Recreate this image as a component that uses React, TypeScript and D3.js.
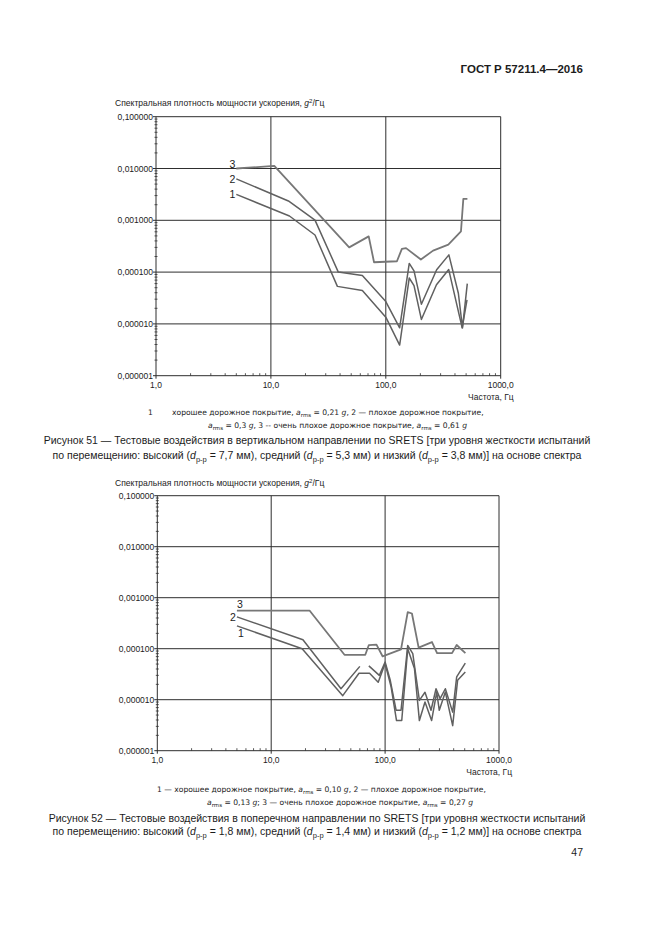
import * as d3 from 'd3';

type Pt = [number, number] | null;
type Seg = { t: string; i?: boolean; sub?: boolean; sup?: boolean };

// оси
const freqDecades = [1, 10, 100, 1000];
const freqLabels = ['1,0', '10,0', '100,0', '1000,0'];
const psdDecades = [0.1, 0.01, 0.001, 0.0001, 0.00001, 0.000001];
const psdLabels = ['0,100000', '0,010000', '0,001000', '0,000100', '0,000010', '0,000001'];

// Рисунок 51 — вертикальное направление
const fig51Curve1: Pt[] = [
  [5, 0.00316], [14.5, 0.00121], [24.2, 0.00052], [37.9, 0.000053], [62.5, 0.000044],
  [100, 0.0000135], [132, 0.0000039], [160, 0.000077], [176, 0.000055], [204, 0.0000122],
  [276, 0.000057], [353, 0.000112], [462, 0.0000084], [509, 0.000029],
];
const fig51Curve2: Pt[] = [
  [5, 0.0063], [14.2, 0.00236], [24.2, 0.00101], [38.6, 0.0001], [62.5, 0.000086],
  [100, 0.000027], [132, 0.0000084], [160, 0.000147], [176, 0.000106], [204, 0.000024],
  [277, 0.000111], [354, 0.000215], [428, 0.000039], [465, 0.0000084], [512, 0.00006],
];
const fig51Curve3: Pt[] = [
  [5, 0.01], [10.7, 0.0112], [48, 0.0003], [71, 0.00049], [79, 0.000155], [125, 0.000162],
  [138, 0.00028], [150, 0.00029], [202, 0.000175], [258, 0.00026], [350, 0.00034],
  [451, 0.00061], [473, 0.0026], [513, 0.0026],
];

// Рисунок 52 — поперечное направление
const fig52Curve1: Pt[] = [
  [5, 0.00028], [18.7, 0.0001], [42.5, 0.000012], [59, 0.000033], [73, 0.000033], [87, 0.000022],
  [100, 0.000051], [113, 0.0000177], [126, 0.0000039], [140, 0.0000039], [158, 0.0001],
  [181, 0.000041], [200, 0.0000039], [224, 0.000009], [256, 0.0000039], [284, 0.0000141],
  [299, 0.0000062], [338, 0.0000141], [392, 0.0000031], [433, 0.000024], [506, 0.000035],
];
const fig52Curve2: Pt[] = [
  [5, 0.00042], [19, 0.00015], [41, 0.0000164], [60, 0.000045], null,
  [72, 0.000046], [89, 0.00003], [100, 0.000055], [111, 0.000024], [125, 0.0000062],
  [138, 0.0000062], [158, 0.000116], [175, 0.00008], [200, 0.0000097], [224, 0.000014],
  [253, 0.0000062], [280, 0.0000164], [304, 0.0000105], [338, 0.0000164], [392, 0.0000057],
  [425, 0.000028], [506, 0.000052],
];
const fig52Curve3: Pt[] = [
  [5, 0.00056], [21.7, 0.00056], [44, 0.000076], [67, 0.000076], [72, 0.000118], [84, 0.00012],
  [95, 0.000071], [138, 0.000097], [158, 0.00052], [172, 0.00049], [197, 0.000105],
  [258, 0.000135], [286, 0.000082], [387, 0.000082], [425, 0.000118], [507, 0.000082],
];

const curveNames = ['1', '2', '3'];

const titleSegs: Seg[] = [
  { t: 'Спектральная плотность мощности ускорения, ' }, { t: 'g', i: true }, { t: '2', sup: true }, { t: '/Гц' },
];

const legend51a: Seg[] = [
  { t: 'хорошее дорожное покрытие, ' }, { t: 'a', i: true }, { t: 'rms', sub: true },
  { t: ' = 0,21 ' }, { t: 'g', i: true }, { t: ', 2 — плохое дорожное покрытие,' },
];
const legend51b: Seg[] = [
  { t: 'a', i: true }, { t: 'rms', sub: true }, { t: ' = 0,3 ' }, { t: 'g', i: true },
  { t: ', 3 -- очень плохое дорожное покрытие, ' }, { t: 'a', i: true }, { t: 'rms', sub: true },
  { t: ' = 0,61 ' }, { t: 'g', i: true },
];
const legend52a: Seg[] = [
  { t: '1 — хорошее дорожное покрытие, ' }, { t: 'a', i: true }, { t: 'rms', sub: true },
  { t: ' = 0,10 ' }, { t: 'g', i: true }, { t: ', 2 — плохое дорожное покрытие,' },
];
const legend52b: Seg[] = [
  { t: 'a', i: true }, { t: 'rms', sub: true }, { t: ' = 0,13 ' }, { t: 'g', i: true },
  { t: '; 3 — очень плохое дорожное покрытие, ' }, { t: 'a', i: true }, { t: 'rms', sub: true },
  { t: ' = 0,27 ' }, { t: 'g', i: true },
];

const caption51a = 'Рисунок 51 — Тестовые воздействия в вертикальном направлении по SRETS [три уровня жесткости испытаний';
const caption52a = 'Рисунок 52 — Тестовые воздействия в поперечном направлении по SRETS [три уровня жесткости испытаний';
const dpp = (v: string[]): Seg[] => [
  { t: 'по перемещению: высокий (' }, { t: 'd', i: true }, { t: 'p-p', sub: true }, { t: ` = ${v[0]} мм), средний (` },
  { t: 'd', i: true }, { t: 'p-p', sub: true }, { t: ` = ${v[1]} мм) и низкий (` },
  { t: 'd', i: true }, { t: 'p-p', sub: true }, { t: ` = ${v[2]} мм)] на основе спектра` },
];
const dpp51 = ['7,7', '5,3', '3,8'];
const dpp52 = ['1,8', '1,4', '1,2'];

const SANS = "'Liberation Sans', Arial, sans-serif";
const MONOISH = "'DejaVu Sans', sans-serif";
const INK = '#1c1c1c';

const Rich = ({ x, y, segs, size, anchor = 'start', family = SANS }: {
  x: number; y: number; segs: Seg[]; size: number; anchor?: string; family?: string;
}) => {
  let shift = 0;
  return (
    <text x={x} y={y} fontSize={size} textAnchor={anchor} fontFamily={family} fill={INK} style={{ whiteSpace: 'pre' }}>
      {segs.map((s, k) => {
        const target = s.sub ? size * 0.3 : s.sup ? -size * 0.4 : 0;
        const dy = target - shift;
        shift = target;
        return (
          <tspan key={k} dy={dy ? dy : undefined} fontStyle={s.i ? 'italic' : undefined}
            fontSize={s.sub || s.sup ? size * 0.72 : undefined}>{s.t}</tspan>
        );
      })}
    </text>
  );
};

type ChartProps = {
  x0: number; x1: number; y0: number; y1: number;
  curves: Pt[][];
  labelPos: { dx: number; dy: number; anchor: string }[];
};

const Chart = ({ x0, x1, y0, y1, curves, labelPos }: ChartProps) => {
  const x = d3.scaleLog().domain([1, 1000]).range([x0, x1]);
  const y = d3.scaleLog().domain([1e-6, 0.1]).range([y1, y0]);
  const line = d3.line<Pt>()
    .defined(d => d !== null)
    .x(d => x(d![0]))
    .y(d => y(d![1]));
  const minorX = freqDecades.slice(0, 3).flatMap(d => d3.range(2, 10).map(k => k * d));
  const minorY = psdDecades.slice(1).flatMap(d => d3.range(2, 10).map(k => k * d));
  const grid = '#2e2e2e';

  return (
    <g>
      {psdDecades.map(v => (
        <line key={'h' + v} x1={x0 - 3} x2={x1} y1={y(v)} y2={y(v)} stroke={grid} strokeWidth={1} />
      ))}
      {freqDecades.map(v => (
        <line key={'v' + v} x1={x(v)} x2={x(v)} y1={y0} y2={y1 + 3} stroke={grid} strokeWidth={1} />
      ))}
      {minorX.map(v => (
        <line key={'mx' + v} x1={x(v)} x2={x(v)} y1={y1} y2={y1 - 2.5} stroke={grid} strokeWidth={0.8} />
      ))}
      {minorY.map(v => (
        <line key={'my' + v} x1={x0 - 1.5} x2={x0 + 1.5} y1={y(v)} y2={y(v)} stroke={grid} strokeWidth={0.8} />
      ))}
      {psdDecades.map((v, i) => (
        <text key={'yl' + v} x={x0 - 3} y={y(v) + 3} fontSize={8.5} textAnchor="end" fontFamily={SANS} fill={INK}>
          {psdLabels[i]}
        </text>
      ))}
      {freqDecades.map((v, i) => (
        <text key={'xl' + v} x={x(v)} y={y1 + 12.5} fontSize={8.5} textAnchor="middle" fontFamily={SANS} fill={INK}>
          {freqLabels[i]}
        </text>
      ))}
      <text x={x1 + 13} y={y1 + 24} fontSize={8.5} textAnchor="end" fontFamily={SANS} fill={INK}>Частота, Гц</text>
      {curves.map((c, i) => (
        <path key={'c' + i} d={line(c) ?? ''} fill="none" stroke={i === 2 ? '#777' : '#606060'}
          strokeWidth={i === 2 ? 1.8 : 1.5} strokeLinejoin="round" />
      ))}
      {curves.map((c, i) => (
        <text key={'n' + i} x={x(c[0]![0]) + labelPos[i].dx} y={y(c[0]![1]) + labelPos[i].dy}
          fontSize={10.5} textAnchor={labelPos[i].anchor} fontFamily={SANS} fill={INK}>{curveNames[i]}</text>
      ))}
    </g>
  );
};

export default function App() {
  return (
    <div style={{ position: 'absolute', left: 0, top: 0 }}>
      <svg width={661} height={935} viewBox="0 0 661 935" style={{ display: 'block', background: '#fff' }}>
        <text x={583} y={73} fontSize={11.5} fontWeight="bold" textAnchor="end" fontFamily={SANS} fill={INK}>
          ГОСТ Р 57211.4—2016
        </text>

        <Rich x={115} y={106} segs={titleSegs} size={8.55} />
        <Chart x0={156} x1={500.7} y0={116.7} y1={375.7}
          curves={[fig51Curve1, fig51Curve2, fig51Curve3]}
          labelPos={[
            { dx: -1, dy: 4, anchor: 'end' },
            { dx: -1, dy: 4, anchor: 'end' },
            { dx: -1, dy: -1, anchor: 'end' },
          ]} />
        <text x={148} y={414.5} fontSize={7.6} fontFamily={MONOISH} fill={INK}>1</text>
        <Rich x={172} y={414.5} segs={legend51a} size={7.6} family={MONOISH} />
        <Rich x={208} y={427.5} segs={legend51b} size={7.6} family={MONOISH} />
        <text x={317} y={443.5} fontSize={10.5} textAnchor="middle" fontFamily={SANS} fill={INK}>{caption51a}</text>
        <Rich x={317} y={458.5} segs={dpp(dpp51)} size={10.5} anchor="middle" />

        <Rich x={115} y={486} segs={titleSegs} size={8.55} />
        <Chart x0={157.3} x1={499} y0={495.7} y1={750.7}
          curves={[fig52Curve1, fig52Curve2, fig52Curve3]}
          labelPos={[
            { dx: 4, dy: 11, anchor: 'middle' },
            { dx: -1, dy: 4, anchor: 'end' },
            { dx: 3, dy: -3, anchor: 'middle' },
          ]} />
        <Rich x={157} y={791.5} segs={legend52a} size={7.6} family={MONOISH} />
        <Rich x={207} y={804.5} segs={legend52b} size={7.6} family={MONOISH} />
        <text x={317} y={821.5} fontSize={10.5} textAnchor="middle" fontFamily={SANS} fill={INK}>{caption52a}</text>
        <Rich x={317} y={835} segs={dpp(dpp52)} size={10.5} anchor="middle" />

        <text x={583} y={856} fontSize={10.5} textAnchor="end" fontFamily={SANS} fill={INK}>47</text>
      </svg>
    </div>
  );
}
